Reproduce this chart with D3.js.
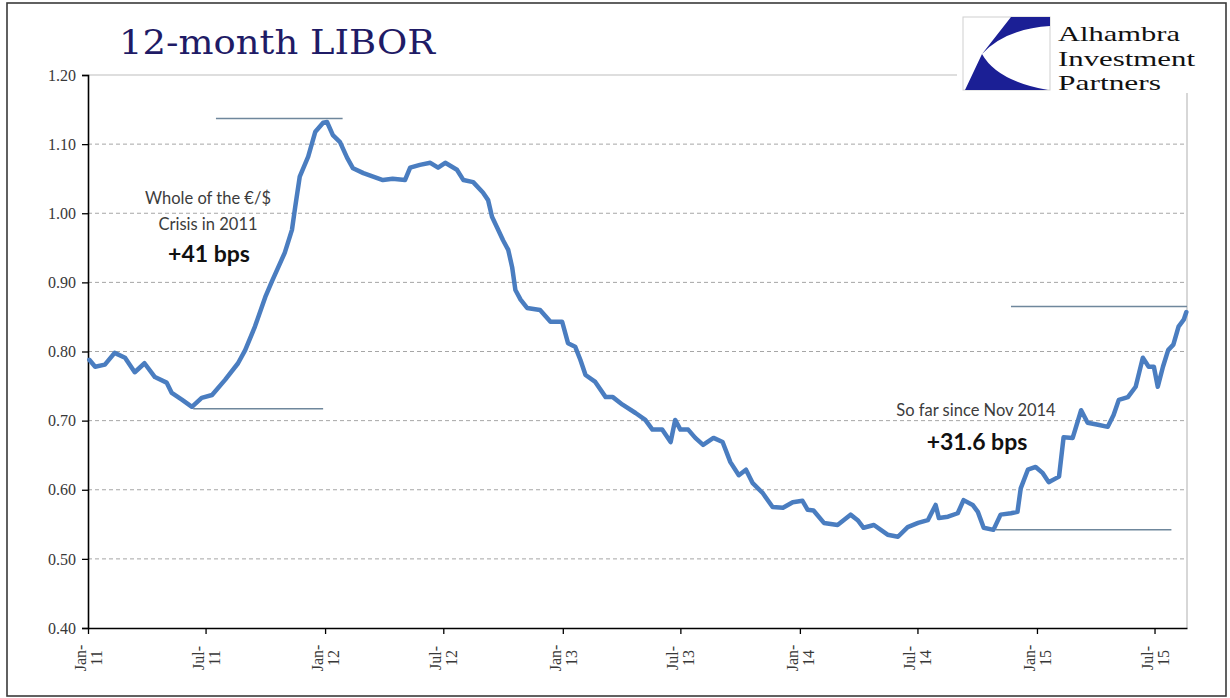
<!DOCTYPE html>
<html>
<head>
<meta charset="utf-8">
<script src="https://cdn.jsdelivr.net/npm/d3@7"></script>
<style>
  html, body { margin: 0; padding: 0; background: #ffffff; }
  svg { display: block; }
</style>
</head>
<body>
<svg id="chart" width="1230" height="698"></svg>
<script>
// ---------------- DATA ----------------
const title = "12-month LIBOR";
const dates = [
  "2011-01-03","2011-01-12","2011-01-27","2011-02-11","2011-02-27","2011-03-14","2011-03-29","2011-04-14",
  "2011-05-02","2011-05-10","2011-05-26","2011-06-10","2011-06-25","2011-07-11","2011-07-31","2011-08-20",
  "2011-08-31","2011-09-15","2011-10-01","2011-10-11","2011-10-31","2011-11-11","2011-11-16","2011-11-23",
  "2011-12-06","2011-12-17","2011-12-29",
  "2012-01-04","2012-01-13","2012-01-24","2012-02-04","2012-02-13","2012-02-29","2012-03-15","2012-03-30",
  "2012-04-14","2012-05-03","2012-05-11","2012-05-26","2012-06-11","2012-06-23","2012-07-04","2012-07-22",
  "2012-08-01","2012-08-16","2012-08-31","2012-09-08","2012-09-14","2012-09-22","2012-10-01","2012-10-09",
  "2012-10-15","2012-10-20","2012-10-28","2012-11-07","2012-11-27","2012-12-13","2012-12-31",
  "2013-01-09","2013-01-20","2013-01-28","2013-02-05","2013-02-20","2013-03-08","2013-03-19","2013-04-03",
  "2013-04-23","2013-05-08","2013-05-19","2013-06-03","2013-06-16","2013-06-23","2013-07-01","2013-07-13",
  "2013-07-24","2013-08-05","2013-08-21","2013-09-04","2013-09-16","2013-09-29","2013-10-10","2013-10-20",
  "2013-11-05","2013-11-20","2013-12-06","2013-12-21",
  "2014-01-05","2014-01-13","2014-01-22","2014-02-07","2014-02-28","2014-03-20","2014-03-31","2014-04-09",
  "2014-04-25","2014-05-16","2014-06-01","2014-06-16","2014-07-02","2014-07-17","2014-07-29","2014-08-03",
  "2014-08-17","2014-09-01","2014-09-10","2014-09-24","2014-10-02","2014-10-11","2014-10-26","2014-11-06",
  "2014-11-22","2014-12-02","2014-12-07","2014-12-18","2014-12-30",
  "2015-01-10","2015-01-19","2015-02-04","2015-02-11","2015-02-25","2015-03-10","2015-03-20","2015-04-05",
  "2015-04-20","2015-04-29","2015-05-07","2015-05-21","2015-06-02","2015-06-13","2015-06-22","2015-06-30",
  "2015-07-06","2015-07-14","2015-07-22","2015-07-30","2015-08-07","2015-08-15","2015-08-19"
];
const values = [
  0.788,0.778,0.781,0.798,0.791,0.770,0.783,0.763,
  0.755,0.740,0.730,0.720,0.733,0.737,0.759,0.783,
  0.802,0.836,0.879,0.901,0.943,0.976,1.009,1.053,
  1.082,1.118,1.131,
  1.132,1.113,1.103,1.080,1.065,1.058,1.053,1.048,
  1.050,1.048,1.066,1.070,1.073,1.066,1.073,1.063,
  1.048,1.045,1.030,1.019,0.995,0.979,0.961,0.947,
  0.922,0.889,0.875,0.863,0.860,0.843,0.843,
  0.812,0.807,0.788,0.766,0.756,0.734,0.734,0.723,
  0.711,0.701,0.687,0.687,0.669,0.701,0.687,0.687,
  0.675,0.665,0.675,0.669,0.640,0.621,0.629,0.610,
  0.595,0.575,0.574,0.582,
  0.584,0.571,0.570,0.552,0.549,0.564,0.556,0.545,
  0.549,0.535,0.532,0.546,0.552,0.556,0.578,0.559,
  0.561,0.566,0.585,0.578,0.568,0.545,0.542,0.564,
  0.566,0.568,0.602,0.629,0.633,
  0.624,0.611,0.619,0.676,0.675,0.715,0.697,0.694,
  0.691,0.708,0.730,0.734,0.749,0.791,0.778,0.778,
  0.749,0.778,0.802,0.810,0.836,0.846,0.857
];
const xDomain = ["2011-01-01","2015-08-20"];
const yTicks = [0.40,0.50,0.60,0.70,0.80,0.90,1.00,1.10,1.20];
const xTickDates = ["2011-01-01","2011-07-01","2012-01-01","2012-07-01","2013-01-01","2013-07-01",
                    "2014-01-01","2014-07-01","2015-01-01","2015-07-01"];
const xTickLabels = ["Jan-11","Jul-11","Jan-12","Jul-12","Jan-13","Jul-13","Jan-14","Jul-14","Jan-15","Jul-15"];
// annotation reference lines: [startDate, endDate, level]
const refLines = [
  ["2011-07-17","2012-01-28",1.137],
  ["2011-06-12","2011-12-29",0.717],
  ["2014-11-22","2015-08-20",0.865],
  ["2014-10-30","2015-07-27",0.542]
];
const note1Lines = ["Whole of the \u20AC/$","Crisis in 2011"];
const note1Big = "+41 bps";
const note2Line = "So far since Nov 2014";
const note2Big = "+31.6 bps";
const logoLines = ["Alhambra","Investment","Partners"];

// ---------------- CHART ----------------
const parse = d3.timeParse("%Y-%m-%d");
const series = dates.map((d,i) => ({date: parse(d), value: values[i]}));
const svg = d3.select("#chart");

const x = d3.scaleTime().domain(xDomain.map(parse)).range([88, 1187]);
const y = d3.scaleLinear().domain([0.4, 1.2]).range([628, 75]);

// outer frame
svg.append("rect").attr("x",7).attr("y",3).attr("width",1219).attr("height",693)
  .attr("fill","#fff").attr("stroke","#3a3a3a").attr("stroke-width",1.6);

// gridlines
svg.append("g").selectAll("line").data(yTicks.filter(t => t > 0.4 && t < 1.2)).join("line")
  .attr("x1", x.range()[0]).attr("x2", x.range()[1])
  .attr("y1", d => y(d)).attr("y2", d => y(d))
  .attr("stroke","#a6a6a6").attr("stroke-width",1).attr("stroke-dasharray","4,3");
// plot-area top and right border
svg.append("line").attr("x1",x.range()[0]).attr("x2",x.range()[1]).attr("y1",y(1.2)).attr("y2",y(1.2))
  .attr("stroke","#bdbdbd").attr("stroke-width",1.2);
svg.append("line").attr("x1",x.range()[1]).attr("x2",x.range()[1]).attr("y1",y(1.2)).attr("y2",y(0.4))
  .attr("stroke","#bdbdbd").attr("stroke-width",1.2);

// axes
const yAxis = svg.append("g").attr("transform",`translate(${x.range()[0]},0)`)
  .call(d3.axisLeft(y).tickValues(yTicks).tickSize(6).tickPadding(6).tickFormat(d3.format(".2f")));
yAxis.select(".domain").attr("stroke","#000").attr("stroke-width",1.6);
yAxis.selectAll(".tick line").attr("stroke","#000").attr("stroke-width",1.3);
yAxis.selectAll(".tick text").attr("font-family","'Liberation Serif', serif").attr("font-size",16)
  .attr("fill","#383838");

const xAxis = svg.append("g").attr("transform",`translate(0,${y.range()[0]})`)
  .call(d3.axisBottom(x).tickValues(xTickDates.map(parse)).tickSize(6).tickSizeOuter(0).tickFormat(""));
xAxis.select(".domain").attr("stroke","#000").attr("stroke-width",1.6);
xAxis.selectAll(".tick line").attr("stroke","#000").attr("stroke-width",1.3);

const xl = svg.append("g");
xTickDates.forEach((d,i) => {
  const [m, yr] = xTickLabels[i].split("-");
  const g = xl.append("g").attr("transform",`translate(${x(parse(d))},658) rotate(-90)`);
  g.append("text").attr("x",0).attr("y",-2).attr("text-anchor","middle")
    .attr("font-family","'Liberation Serif', serif").attr("font-size",16).attr("fill","#383838").text(m + "-");
  g.append("text").attr("x",0).attr("y",14).attr("text-anchor","middle")
    .attr("font-family","'Liberation Serif', serif").attr("font-size",16).attr("fill","#383838").text(yr);
});

// reference lines
svg.append("g").selectAll("line").data(refLines).join("line")
  .attr("x1", d => x(parse(d[0]))).attr("x2", d => x(parse(d[1])))
  .attr("y1", d => y(d[2])).attr("y2", d => y(d[2]))
  .attr("stroke","#6f879c").attr("stroke-width",1.5);

// series line
svg.append("path").datum(series)
  .attr("d", d3.line().x(d => x(d.date)).y(d => y(d.value)))
  .attr("fill","none").attr("stroke","#4a7dc0").attr("stroke-width",4.5)
  .attr("stroke-linejoin","round").attr("stroke-linecap","round");

// annotations
const ann = svg.append("g").attr("font-family","Lato, 'Open Sans', sans-serif");
ann.append("text").attr("x",208).attr("y",204).attr("text-anchor","middle").attr("font-size",16.5)
  .attr("fill","#3c3c3c").text(note1Lines[0]);
ann.append("text").attr("x",208).attr("y",230).attr("text-anchor","middle").attr("font-size",16.5)
  .attr("fill","#3c3c3c").text(note1Lines[1]);
ann.append("text").attr("x",209).attr("y",262).attr("text-anchor","middle").attr("font-size",23)
  .attr("font-weight","bold").attr("fill","#111").text(note1Big);
ann.append("text").attr("x",976).attr("y",416).attr("text-anchor","middle").attr("font-size",16.5)
  .attr("fill","#3c3c3c").text(note2Line);
ann.append("text").attr("x",977).attr("y",450).attr("text-anchor","middle").attr("font-size",23)
  .attr("font-weight","bold").attr("fill","#111").text(note2Big);

// title
svg.append("text").attr("x",119).attr("y",54).attr("font-family","'DejaVu Serif', serif")
  .attr("font-size",33).attr("fill","#1f1b66").attr("textLength",316).attr("lengthAdjust","spacingAndGlyphs")
  .text(title);

// logo
const logo = svg.append("g");
logo.append("rect").attr("x",957).attr("y",8).attr("width",262).attr("height",85).attr("fill","#fff");
const lg = logo.append("g").attr("transform","translate(963,17)");
lg.append("rect").attr("x",0).attr("y",0).attr("width",87).attr("height",73)
  .attr("fill","#fff").attr("stroke","#cfcfcf").attr("stroke-width",1);
lg.append("path").attr("d","M48,0 L87,0 L87,9 Q42,12 19,37 Z").attr("fill","#1b1f95");
lg.append("path").attr("d","M19,37 L2,73 L85,73 Q34,64 19,37 Z").attr("fill","#1b1f95");
const lw = [122,137,103];
logoLines.forEach((t,i) => {
  logo.append("text").attr("x",1058).attr("y",41 + i*24.5).attr("font-family","'Liberation Serif', serif")
    .attr("font-size",22).attr("fill","#111").attr("textLength",lw[i]).attr("lengthAdjust","spacingAndGlyphs").text(t);
});
</script>
</body>
</html>
